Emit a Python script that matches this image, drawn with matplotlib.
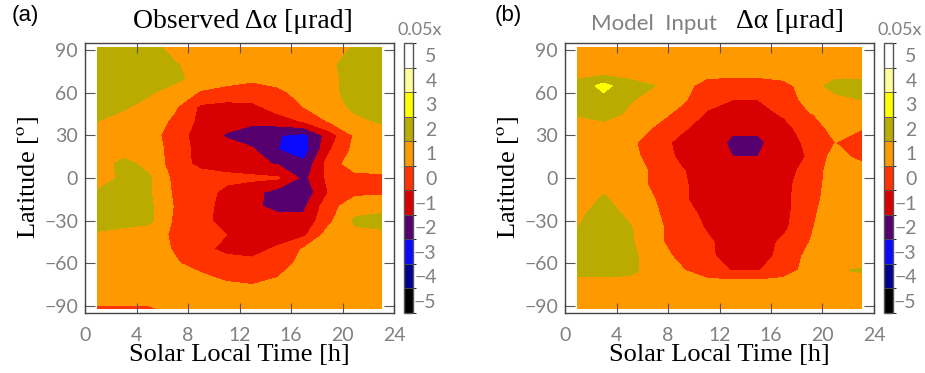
"""
plot.py - Observed vs model input delta-alpha maps (latitude vs local time)
"""

import numpy as np
import matplotlib
matplotlib.use("Agg")
import matplotlib.pyplot as plt
from matplotlib.colors import ListedColormap, BoundaryNorm

# grid: solar local time [h] and latitude [deg]
slt = [1, 3, 5, 7, 9, 11, 13, 15, 17, 19, 21, 23]
lat_obs = [92, 80, 70, 60, 50, 40, 30, 20, 10, 0, -10, -20, -30, -40, -50, -60, -70, -80, -92]
lat_mod = [92, 75, 65, 55, 45, 35, 25, 15, 5, -5, -15, -25, -35, -45, -55, -65, -75, -92]

# observed delta-alpha (units of 0.05 urad), rows follow lat_obs
obs = [
    [2.0, 2.0, 2.0, 1.0, 1.0, 1.0, 1.0, 1.0, 1.0, 1.0, 1.6, 2.0],
    [2.0, 2.0, 2.0, 1.6, 1.0, 1.0, 1.0, 1.0, 1.0, 1.3, 2.0, 2.0],
    [2.0, 2.0, 2.0, 1.8, 1.0, 0.8, 0.6, 0.8, 1.0, 1.2, 2.0, 2.0],
    [2.0, 2.0, 1.6, 1.0, 0.4, 0.2, 0.2, 0.3, 0.8, 1.3, 1.8, 2.0],
    [2.0, 1.6, 1.2, 0.6, -0.7, -0.9, -0.8, 0.0, 0.5, 1.1, 1.7, 2.0],
    [1.5, 1.2, 1.0, 0.3, -0.8, -1.1, -1.3, -1.0, -0.4, 0.6, 1.3, 1.6],
    [1.0, 1.1, 0.9, 0.0, -1.0, -1.6, -2.0, -2.45, -2.8, -1.0, 0.67, 1.0],
    [1.0, 1.0, 1.0, 0.1, -0.9, -1.1, -1.4, -2.5, -3.0, -0.6, 0.8, 1.0],
    [1.0, 1.8, 1.2, 0.0, -0.8, -1.0, -1.2, -1.6, -2.3, 0.0, 1.0, 0.9],
    [1.0, 1.7, 1.6, 0.2, 0.0, -0.2, -0.3, -0.4, -1.8, -0.2, 0.2, 0.3],
    [1.6, 1.8, 1.6, 0.3, 0.0, -0.8, -1.2, -1.9, -2.2, -0.4, 0.3, 0.3],
    [1.7, 1.8, 1.7, 0.4, -0.2, -0.8, -1.3, -1.8, -1.7, 0.2, 1.0, 1.2],
    [1.8, 1.8, 1.7, 0.3, -0.2, -0.9, -1.2, -1.1, -1.2, 0.3, 1.7, 1.8],
    [1.4, 1.2, 1.0, 0.3, -0.2, -0.5, -1.1, -1.1, -0.7, 1.0, 1.2, 1.3],
    [1.0, 1.0, 1.0, 0.4, -0.2, -0.8, -0.9, -0.3, 0.6, 1.0, 1.0, 1.0],
    [1.0, 1.4, 1.0, 0.6, 0.1, 0.0, -0.2, 0.2, 0.7, 1.0, 1.0, 1.0],
    [1.0, 1.3, 1.0, 1.0, 0.7, 0.3, 0.1, 0.5, 0.9, 1.0, 1.0, 1.0],
    [1.0, 1.0, 1.0, 1.0, 1.0, 1.0, 0.9, 1.0, 1.0, 1.0, 1.0, 1.0],
    [0.4, 0.4, 0.4, 0.7, 1.0, 1.0, 1.0, 1.0, 1.0, 1.0, 1.0, 1.0],
]

# model input delta-alpha, rows follow lat_mod
mod = [
    [1.0, 1.0, 1.0, 1.0, 1.0, 1.0, 1.0, 1.0, 1.0, 1.0, 1.0, 1.0],
    [1.0, 1.0, 1.0, 1.0, 1.0, 1.0, 1.0, 1.0, 1.0, 1.0, 1.0, 1.0],
    [1.9, 2.8, 1.9, 1.5, 1.0, 0.0, -0.2, -0.2, 0.2, 1.0, 1.9, 1.9],
    [2.0, 2.2, 1.6, 1.1, 0.7, -0.2, -0.5, -0.5, -0.1, 0.9, 1.2, 1.5],
    [1.6, 2.0, 1.3, 0.9, 0.2, -0.6, -0.8, -0.8, -0.4, 0.45, 0.8, 1.0],
    [1.0, 1.0, 1.0, 0.4, -0.3, -1.0, -1.3, -1.3, -0.8, 0.0, 0.8, 0.55],
    [1.0, 1.0, 0.7, 0.0, -0.8, -0.9, -1.7, -1.7, -0.9, -0.3, 0.5, 0.0],
    [1.0, 1.0, 0.8, 0.1, -0.7, -1.0, -1.5, -1.5, -1.0, -0.4, 0.9, 0.2],
    [1.0, 1.0, 1.0, 0.3, -0.4, -1.0, -1.2, -1.2, -1.0, 0.0, 0.9, 1.0],
    [1.0, 1.3, 1.0, 0.3, -0.3, -1.0, -1.2, -1.2, -0.8, 0.1, 0.9, 1.0],
    [1.1, 1.6, 1.1, 0.5, -0.3, -1.0, -1.2, -1.2, -0.8, 0.2, 0.9, 1.0],
    [1.3, 1.9, 1.3, 0.6, 0.0, -0.8, -1.1, -1.1, -0.8, 0.3, 1.0, 1.0],
    [1.5, 2.0, 1.6, 0.6, 0.3, -0.6, -1.0, -1.0, -0.7, 0.4, 1.0, 1.0],
    [2.0, 2.1, 1.7, 0.6, 0.3, -0.3, -1.0, -1.0, -0.3, 0.5, 1.0, 1.0],
    [2.0, 2.1, 1.8, 0.9, 0.3, -0.3, -0.9, -0.9, -0.2, 0.8, 1.0, 1.0],
    [1.9, 1.9, 1.8, 1.0, 0.6, -0.1, -0.55, -0.55, 0.0, 0.9, 1.4, 1.6],
    [1.0, 1.0, 1.0, 1.0, 1.0, 1.0, 1.0, 1.0, 1.0, 1.0, 1.0, 1.0],
    [1.0, 1.0, 1.0, 1.0, 1.0, 1.0, 1.0, 1.0, 1.0, 1.0, 1.0, 1.0],
]

cbar_ticks = [-5, -4, -3, -2, -1, 0, 1, 2, 3, 4, 5]
level_colors = ['#000000', '#00008c', '#0a0aff', '#55006e', '#d80000', '#ff3300',
                '#ff9900', '#b9ab00', '#ffff00', '#ffff99', '#ffffff']

GREY = '#808080'
SERIF = 'Liberation Serif'
SANS = ['Lato', 'DejaVu Sans']

plt.rcParams['mathtext.fontset'] = 'stix'

cmap = ListedColormap(level_colors)
bounds = np.arange(-5.5, 6.0, 1.0)
norm = BoundaryNorm(bounds, cmap.N)

fig = plt.figure(figsize=(9.25, 3.73), dpi=100)
W, H = 925.0, 373.0


def panel(x0, data, lats, cb_x0):
    ax = fig.add_axes([x0 / W, 1 - 313 / H, 309 / W, 270 / H])
    ax.contourf(slt, lats, np.array(data), levels=bounds, cmap=cmap, norm=norm)
    ax.set_xlim(0, 24)
    ax.set_ylim(-95, 95)
    ax.set_xticks(range(0, 25, 4))
    ax.set_yticks(range(-90, 91, 30))
    ax.tick_params(direction='in', top=True, right=True, length=7, width=0.8,
                   color='#555555', labelcolor=GREY, labelsize=14)
    ax.tick_params(axis='x', pad=10)
    ax.tick_params(axis='y', pad=5)
    for lab in ax.get_xticklabels() + ax.get_yticklabels():
        lab.set_family(SANS)
    for sp in ax.spines.values():
        sp.set_color('#444444')
        sp.set_linewidth(1.0)
    ax.set_xlabel('Solar Local Time [h]', family=SERIF, fontsize=19, labelpad=0)
    ax.set_ylabel(r'Latitude [$^{\rm o}$]', family=SERIF, fontsize=19, labelpad=2)

    cax = fig.add_axes([cb_x0 / W, 1 - 313 / H, 9 / W, 270 / H])
    cb = fig.colorbar(plt.cm.ScalarMappable(norm=norm, cmap=cmap), cax=cax,
                      boundaries=bounds, ticks=cbar_ticks, drawedges=True)
    cb.outline.set_edgecolor('#555555')
    cb.outline.set_linewidth(1.0)
    cb.dividers.set_color('#555555')
    cb.dividers.set_linewidth(0.6)
    cax.tick_params(length=0, pad=17, labelcolor=GREY, labelsize=14)
    for lab in cax.get_yticklabels():
        lab.set_family(SANS)
        lab.set_horizontalalignment('right')
    fig.text((cb_x0 + 16) / W, 1 - 30 / H, '0.05x', color=GREY, fontsize=13,
             family=SANS, ha='center', va='center')
    return ax


panel(85, obs, lat_obs, 404)
panel(565, mod, lat_mod, 884)

fig.text(25 / W, 1 - 16 / H, '(a)', family='Liberation Sans', fontsize=16,
         ha='center', va='center')
fig.text(508 / W, 1 - 16 / H, '(b)', family='Liberation Sans', fontsize=16,
         ha='center', va='center')

fig.text(243 / W, 1 - 22 / H, 'Observed Δα [μrad]', family=SERIF, fontsize=20,
         ha='center', va='center')
fig.text(654 / W, 1 - 24 / H, 'Model  Input', family=SANS, color=GREY,
         fontsize=16, ha='center', va='center')
fig.text(790 / W, 1 - 22 / H, 'Δα [μrad]', family=SERIF, fontsize=20,
         ha='center', va='center')

plt.savefig('out.png', dpi=100)
